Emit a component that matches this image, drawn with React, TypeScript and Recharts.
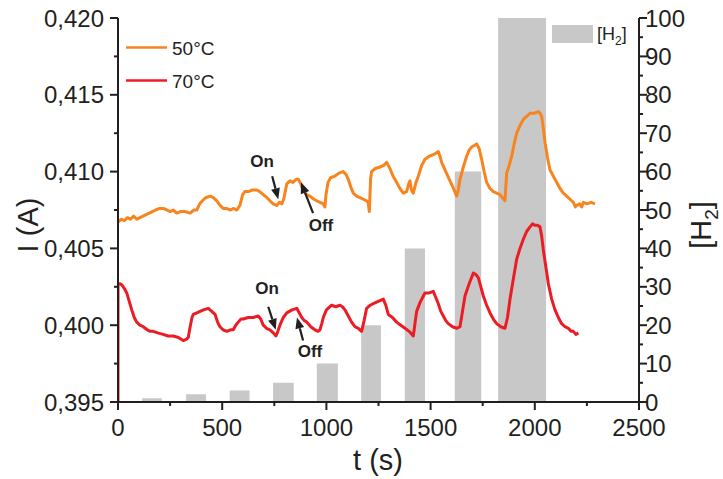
import { ComposedChart, Line, Area, XAxis, YAxis, ReferenceLine, ReferenceDot } from 'recharts'

// time axis ticks (s), current ticks (A), [H2] ticks
const tTicks = [0, 250, 500, 750, 1000, 1250, 1500, 1750, 2000, 2250, 2500]
const iTicks = [0.395, 0.3975, 0.4, 0.4025, 0.405, 0.4075, 0.41, 0.4125, 0.415, 0.4175, 0.42]
const h2Ticks = [0, 5, 10, 15, 20, 25, 30, 35, 40, 45, 50, 55, 60, 65, 70, 75, 80, 85, 90, 95, 100]

// H2 pulses: start / end (s) and concentration
const h2Start = [116, 327, 536, 744, 954, 1167, 1376, 1616, 1824]
const h2End = [210, 422, 631, 843, 1055, 1262, 1473, 1743, 2054]
const h2Value = [1, 2, 3, 5, 10, 20, 40, 60, 100]

// 50°C trace: [t (s), I (A)]
const trace50: [number, number][] = [
    [0, 0.4067], [15, 0.4069], [30, 0.4068], [45, 0.4070], [60, 0.4069], [75, 0.4071], [90, 0.4069], [105, 0.4070],
    [120, 0.4071], [135, 0.4072], [150, 0.4073], [165, 0.4074], [180, 0.4075], [200, 0.4076], [217, 0.4076],
    [235, 0.4075], [250, 0.4074], [265, 0.4075], [282, 0.4073], [300, 0.4074], [320, 0.4074], [346, 0.4073],
    [365, 0.4075], [378, 0.4075], [392, 0.4079], [405, 0.4081], [420, 0.4083], [442, 0.4084], [458, 0.4083],
    [474, 0.4081], [490, 0.4078], [505, 0.4076], [520, 0.4076], [540, 0.4075], [553, 0.4076], [570, 0.4075],
    [585, 0.4078], [598, 0.4085], [609, 0.4087], [625, 0.4087], [645, 0.4088], [666, 0.4088], [680, 0.4087],
    [697, 0.4085], [715, 0.4083], [729, 0.4081], [745, 0.4079], [762, 0.4078], [775, 0.4080], [786, 0.4079],
    [795, 0.4082], [810, 0.4092], [825, 0.4094], [840, 0.4093], [855, 0.4095], [865, 0.4095], [877, 0.4092],
    [889, 0.4088], [905, 0.4085], [921, 0.4084], [940, 0.4082], [954, 0.4081], [970, 0.4080], [985, 0.4079],
    [993, 0.4077], [998, 0.4085], [1008, 0.4093], [1020, 0.4096], [1040, 0.4097], [1060, 0.4099], [1081, 0.4100],
    [1095, 0.4098], [1105, 0.4095], [1117, 0.4090], [1129, 0.4086], [1145, 0.4084], [1161, 0.4083], [1177, 0.4082],
    [1193, 0.4081], [1200, 0.4080], [1206, 0.4074], [1212, 0.4095], [1217, 0.4100], [1235, 0.4102], [1257, 0.4103],
    [1275, 0.4104], [1289, 0.4106], [1297, 0.4104], [1305, 0.4102], [1320, 0.4097], [1337, 0.4093], [1353, 0.4089],
    [1369, 0.4086], [1385, 0.4087], [1395, 0.4092], [1401, 0.4094], [1408, 0.4088], [1417, 0.4086], [1430, 0.4093],
    [1441, 0.4097], [1457, 0.4104], [1473, 0.4108], [1493, 0.4110], [1513, 0.4111], [1525, 0.4112], [1537, 0.4113],
    [1545, 0.4110], [1553, 0.4106], [1573, 0.4100], [1593, 0.4094], [1610, 0.4089], [1625, 0.4084], [1633, 0.4088],
    [1641, 0.4095], [1657, 0.4103], [1673, 0.4110], [1685, 0.4114], [1697, 0.4116], [1710, 0.4117], [1721, 0.4118],
    [1733, 0.4115], [1745, 0.4108], [1757, 0.4100], [1769, 0.4093], [1785, 0.4089], [1801, 0.4087], [1817, 0.4086],
    [1833, 0.4085], [1845, 0.4083], [1857, 0.4081], [1861, 0.4090], [1865, 0.4099], [1877, 0.4104], [1889, 0.4110],
    [1901, 0.4118], [1913, 0.4125], [1929, 0.4130], [1945, 0.4134], [1961, 0.4136], [1977, 0.4138], [1997, 0.4138],
    [2017, 0.4139], [2025, 0.4138], [2033, 0.4136], [2041, 0.4128], [2049, 0.4119], [2061, 0.4109], [2073, 0.4101],
    [2089, 0.4097], [2105, 0.4093], [2121, 0.4089], [2137, 0.4086], [2153, 0.4084], [2169, 0.4082], [2185, 0.4080],
    [2195, 0.4077], [2201, 0.4078], [2215, 0.4079], [2225, 0.4077], [2233, 0.4080], [2250, 0.4079], [2270, 0.4080],
    [2289, 0.4079],
]

// 70°C trace: [t (s), I (A)]
const trace70: [number, number][] = [
    [0, 0.3950], [0, 0.4027], [10, 0.4027], [20, 0.4026], [30, 0.4024], [42, 0.4021], [55, 0.4015], [66, 0.4010],
    [78, 0.4005], [90, 0.4002], [105, 0.4000], [121, 0.3999], [140, 0.3997], [155, 0.3996], [169, 0.3996],
    [190, 0.3995], [217, 0.3994], [240, 0.3993], [265, 0.3993], [290, 0.3992], [313, 0.3990], [330, 0.3991],
    [337, 0.3992], [345, 0.3998], [355, 0.4005], [361, 0.4007], [378, 0.4008], [394, 0.4009], [410, 0.4010],
    [433, 0.4011], [450, 0.4009], [466, 0.4007], [478, 0.4002], [489, 0.3999], [505, 0.3997], [522, 0.3996],
    [540, 0.3997], [553, 0.3997], [565, 0.4000], [577, 0.4002], [590, 0.4004], [601, 0.4004], [625, 0.4005],
    [649, 0.4005], [673, 0.4006], [685, 0.4004], [697, 0.4000], [713, 0.3998], [729, 0.3997], [745, 0.3995],
    [758, 0.3993], [767, 0.3996], [777, 0.4000], [793, 0.4005], [810, 0.4008], [835, 0.4010], [858, 0.4011],
    [870, 0.4008], [882, 0.4005], [894, 0.4003], [906, 0.4002], [925, 0.3999], [945, 0.3997], [960, 0.3996],
    [969, 0.3997], [978, 0.4001], [985, 0.4005], [1000, 0.4010], [1025, 0.4013], [1045, 0.4012], [1065, 0.4013],
    [1077, 0.4012], [1089, 0.4010], [1105, 0.4006], [1121, 0.4002], [1137, 0.3999], [1153, 0.3998], [1169, 0.3996],
    [1181, 0.4003], [1193, 0.4011], [1210, 0.4013], [1225, 0.4014], [1241, 0.4015], [1257, 0.4016], [1273, 0.4017],
    [1285, 0.4013], [1297, 0.4007], [1317, 0.4005], [1337, 0.4002], [1357, 0.4000], [1377, 0.3998], [1397, 0.3996],
    [1417, 0.3993], [1425, 0.4001], [1433, 0.4009], [1450, 0.4015], [1473, 0.4021], [1493, 0.4021], [1513, 0.4022],
    [1525, 0.4018], [1537, 0.4014], [1549, 0.4009], [1561, 0.4006], [1573, 0.4003], [1585, 0.4001], [1605, 0.3999],
    [1625, 0.3998], [1641, 0.3999], [1653, 0.4009], [1665, 0.4019], [1685, 0.4027], [1705, 0.4034], [1717, 0.4033],
    [1729, 0.4031], [1741, 0.4025], [1753, 0.4019], [1769, 0.4013], [1785, 0.4008], [1801, 0.4004], [1817, 0.4001],
    [1837, 0.3999], [1857, 0.3998], [1869, 0.4005], [1881, 0.4017], [1897, 0.4030], [1913, 0.4043], [1929, 0.4050],
    [1945, 0.4056], [1961, 0.4061], [1977, 0.4064], [1989, 0.4066], [2001, 0.4065], [2013, 0.4065], [2025, 0.4064],
    [2033, 0.4058], [2041, 0.4049], [2053, 0.4038], [2065, 0.4027], [2081, 0.4017], [2097, 0.4010], [2113, 0.4005],
    [2129, 0.4001], [2145, 0.3999], [2161, 0.3998], [2175, 0.3996], [2185, 0.3996], [2197, 0.3994], [2209, 0.3995],
]

// On / Off annotations (label position and arrow, in data units)
const noteText = ['On', 'Off', 'On', 'Off']
const noteT = [691, 974, 715, 921]
const noteI = [0.4107, 0.4065, 0.4024, 0.3983]
const arrowFromT = [740, 936, 721, 888]
const arrowFromI = [0.4097, 0.4073, 0.4012, 0.3990]
const arrowToT = [769, 878, 757, 859]
const arrowToI = [0.4082, 0.4093, 0.3997, 0.4005]

const data50 = trace50.map(([t, I]) => ({ t, I }))
const data70 = trace70.map(([t, I]) => ({ t, I }))
// each pulse as a step: up at start, back to zero at end
const dataH2 = h2Value.flatMap((v, i) => [
    { t: h2Start[i], h: v },
    { t: h2End[i], h: 0 },
])

const FONT = '"Liberation Sans", Arial, sans-serif'
const INK = '#231f20'
const ORANGE = '#f7841f'
const RED = '#ec1c24'
const GRAY = '#c8c8c8'

function XTick({ x, y, payload }: any) {
    const major = payload.value % 500 === 0
    return (
        <g>
            <line x1={x} y1={y} x2={x} y2={y + (major ? 8 : 4)} stroke={INK} strokeWidth={2} />
            {major && (
                <text x={x} y={y + 34} textAnchor="middle" fontFamily={FONT} fontSize={24} fill={INK}>
                    {payload.value}
                </text>
            )}
        </g>
    )
}

function LeftTick({ x, y, payload }: any) {
    const major = Math.round(payload.value * 10000) % 50 === 0
    return (
        <g>
            <line x1={x} y1={y} x2={x - (major ? 8 : 4)} y2={y} stroke={INK} strokeWidth={2} />
            {major && (
                <text x={x - 14} y={y + 8.5} textAnchor="end" fontFamily={FONT} fontSize={24} fill={INK}>
                    {payload.value.toFixed(3).replace('.', ',')}
                </text>
            )}
        </g>
    )
}

function RightTick({ x, y, payload }: any) {
    const major = payload.value % 10 === 0
    return (
        <g>
            <line x1={x} y1={y} x2={x + (major ? 8 : 4)} y2={y} stroke={INK} strokeWidth={2} />
            {major && (
                <text x={x + 6} y={y + 8.5} textAnchor="start" fontFamily={FONT} fontSize={24} fill={INK}>
                    {payload.value}
                </text>
            )}
        </g>
    )
}

function Arrow(props: any) {
    const { x1, y1, x2, y2 } = props
    const dx = x2 - x1
    const dy = y2 - y1
    const len = Math.sqrt(dx * dx + dy * dy)
    const ux = dx / len
    const uy = dy / len
    const hl = 11
    const hw = 4.5
    const bx = x2 - ux * hl
    const by = y2 - uy * hl
    return (
        <g>
            <line x1={x1} y1={y1} x2={bx} y2={by} stroke={INK} strokeWidth={2.2} />
            <polygon
                points={`${x2},${y2} ${bx - uy * hw},${by + ux * hw} ${bx + uy * hw},${by - ux * hw}`}
                fill={INK}
            />
        </g>
    )
}

export default function App() {
    return (
        <div style={{ position: 'absolute', left: 0, top: 0, width: 723, height: 479, background: '#fff' }}>
            <ComposedChart width={723} height={479} margin={{ top: 18, right: 0, bottom: 0, left: 0 }}>
                <XAxis
                    xAxisId="b"
                    dataKey="t"
                    type="number"
                    domain={[0, 2500]}
                    ticks={tTicks}
                    height={77}
                    allowDataOverflow
                    axisLine={{ stroke: INK, strokeWidth: 2 }}
                    tickLine={false}
                    tickSize={0}
                    tickMargin={0}
                    tick={<XTick />}
                    interval={0}
                />
                <XAxis
                    xAxisId="top"
                    orientation="top"
                    type="number"
                    domain={[0, 2500]}
                    height={0}
                    axisLine={{ stroke: INK, strokeWidth: 2 }}
                    tickLine={false}
                    tick={false}
                />
                <YAxis
                    yAxisId="left"
                    type="number"
                    domain={[0.395, 0.42]}
                    ticks={iTicks}
                    width={118}
                    allowDataOverflow
                    axisLine={{ stroke: INK, strokeWidth: 2 }}
                    tickLine={false}
                    tickSize={0}
                    tickMargin={0}
                    tick={<LeftTick />}
                    interval={0}
                />
                <YAxis
                    yAxisId="right"
                    orientation="right"
                    type="number"
                    domain={[0, 100]}
                    ticks={h2Ticks}
                    width={84}
                    allowDataOverflow
                    axisLine={{ stroke: INK, strokeWidth: 2 }}
                    tickLine={false}
                    tickSize={0}
                    tickMargin={0}
                    tick={<RightTick />}
                    interval={0}
                />
                <Area
                    xAxisId="b"
                    yAxisId="right"
                    data={dataH2}
                    dataKey="h"
                    type="stepAfter"
                    stroke="none"
                    fill={GRAY}
                    fillOpacity={1}
                    baseValue={0}
                    dot={false}
                    activeDot={false}
                    isAnimationActive={false}
                />
                <Line
                    xAxisId="b"
                    yAxisId="left"
                    data={data50}
                    dataKey="I"
                    type="linear"
                    stroke={ORANGE}
                    strokeWidth={3}
                    strokeLinejoin="round"
                    dot={false}
                    isAnimationActive={false}
                />
                <Line
                    xAxisId="b"
                    yAxisId="left"
                    data={data70}
                    dataKey="I"
                    type="linear"
                    stroke={RED}
                    strokeWidth={3}
                    strokeLinejoin="round"
                    dot={false}
                    isAnimationActive={false}
                />
                {noteText.map((s, i) => (
                    <ReferenceLine
                        key={`arrow-${i}`}
                        xAxisId="b"
                        yAxisId="left"
                        segment={[
                            { x: arrowFromT[i], y: arrowFromI[i] },
                            { x: arrowToT[i], y: arrowToI[i] },
                        ]}
                        shape={(p: any) => <Arrow {...p} />}
                    />
                ))}
                {noteText.map((s, i) => (
                    <ReferenceDot
                        key={`note-${i}`}
                        xAxisId="b"
                        yAxisId="left"
                        x={noteT[i]}
                        y={noteI[i]}
                        r={0}
                        shape={(p: any) => (
                            <text
                                x={p.cx}
                                y={p.cy + 6}
                                textAnchor="middle"
                                fontFamily={FONT}
                                fontSize={17}
                                fontWeight="bold"
                                fill={INK}
                            >
                                {s}
                            </text>
                        )}
                    />
                ))}
            </ComposedChart>
            <svg
                width={723}
                height={479}
                style={{ position: 'absolute', left: 0, top: 0, pointerEvents: 'none' }}
                fontFamily={FONT}
                fill={INK}
            >
                {/* legend, top left */}
                <line x1={126} y1={47.5} x2={167} y2={47.5} stroke={ORANGE} strokeWidth={2.6} />
                <text x={172} y={54.5} fontSize={19}>50°C</text>
                <line x1={126} y1={80.5} x2={167} y2={80.5} stroke={RED} strokeWidth={2.6} />
                <text x={172} y={87.5} fontSize={19}>70°C</text>
                {/* legend, top right */}
                <rect x={552} y={25} width={41} height={18} fill={GRAY} />
                <text x={597} y={40} fontSize={18}>
                    [H<tspan fontSize={12} dy={5}>2</tspan><tspan dy={-5}>]</tspan>
                </text>
                {/* axis titles */}
                <text x={378} y={470} fontSize={29} textAnchor="middle">t (s)</text>
                <text
                    x={0}
                    y={0}
                    fontSize={29}
                    textAnchor="middle"
                    transform="translate(38 225) rotate(-90)"
                >
                    I (A)
                </text>
                <text
                    x={0}
                    y={0}
                    fontSize={29}
                    textAnchor="middle"
                    transform="translate(711 225) rotate(-90)"
                >
                    [H<tspan fontSize={19} dy={7}>2</tspan><tspan dy={-7}>]</tspan>
                </text>
            </svg>
        </div>
    )
}
